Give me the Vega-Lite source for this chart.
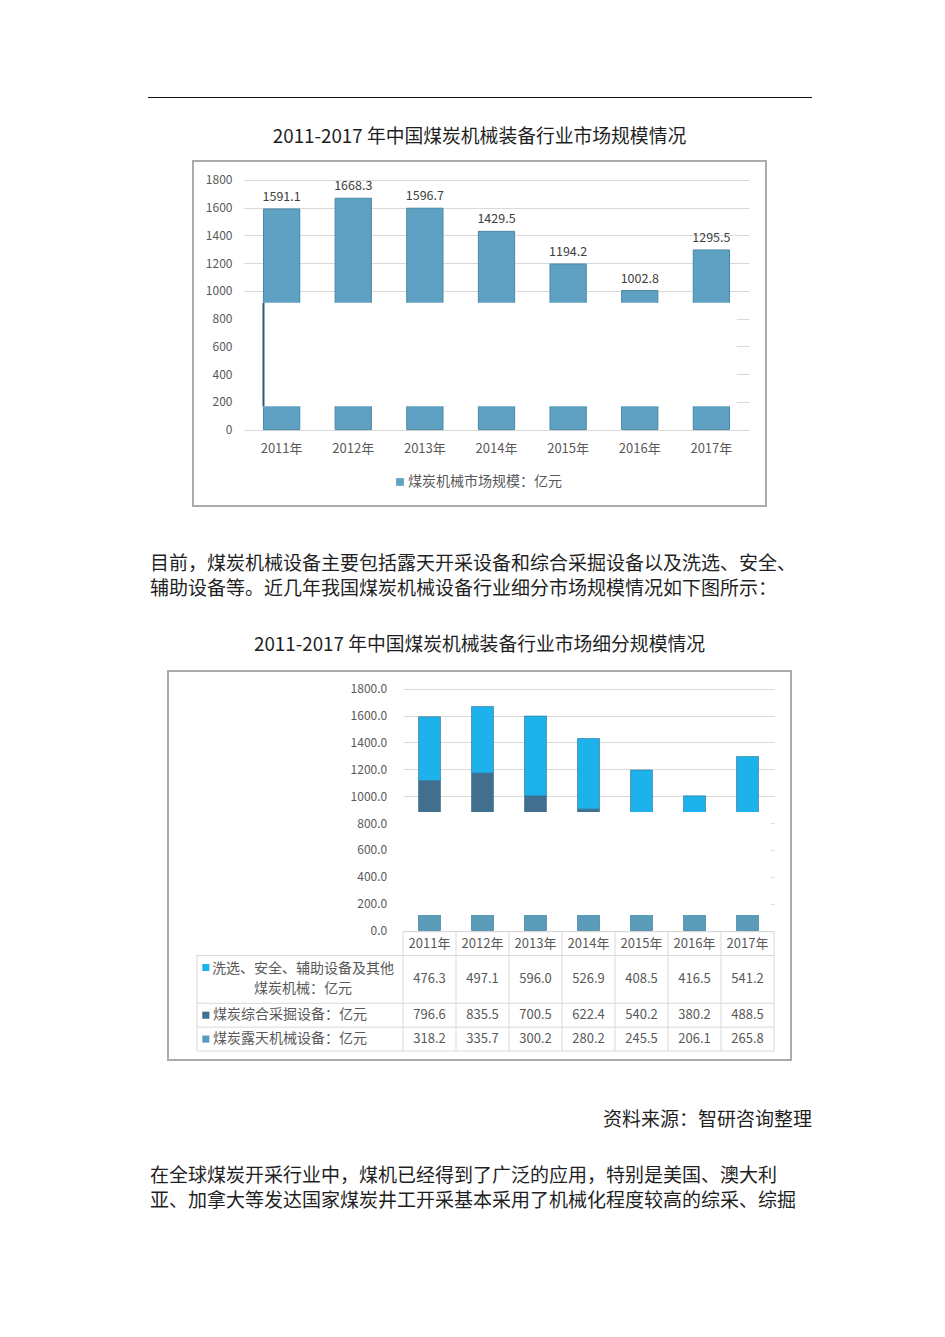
{
  "$schema": "https://vega.github.io/schema/vega-lite/v6.json",
  "background": "white",
  "padding": {"left": 148, "top": 97, "right": 20, "bottom": 20},
  "spacing": 0,
  "center": true,
  "resolve": {"scale": {"color": "independent"}, "legend": {"color": "independent"}},
  "config": {
    "font": "Noto Sans CJK SC",
    "view": {"stroke": null},
    "title": {"font": "Noto Sans CJK SC", "fontWeight": "normal", "fontSize": 18.8, "color": "#1f1f1f", "lineHeight": 25},
    "axis": {"labelFont": "Noto Sans CJK SC", "labelColor": "#595959", "title": null, "ticks": false, "tickSize": 0, "domain": false, "labelPadding": 0, "labelOverlap": false}
  },
  "datasets": {
    "total": [
      {"year": "2011年", "value": 1591.1, "series": "煤炭机械市场规模：亿元"},
      {"year": "2012年", "value": 1668.3, "series": "煤炭机械市场规模：亿元"},
      {"year": "2013年", "value": 1596.7, "series": "煤炭机械市场规模：亿元"},
      {"year": "2014年", "value": 1429.5, "series": "煤炭机械市场规模：亿元"},
      {"year": "2015年", "value": 1194.2, "series": "煤炭机械市场规模：亿元"},
      {"year": "2016年", "value": 1002.8, "series": "煤炭机械市场规模：亿元"},
      {"year": "2017年", "value": 1295.5, "series": "煤炭机械市场规模：亿元"}
    ],
    "seg": [
      {"year": "2011年", "series": "洗选、安全、辅助设备及其他\n煤炭机械：亿元", "value": 476.3},
      {"year": "2012年", "series": "洗选、安全、辅助设备及其他\n煤炭机械：亿元", "value": 497.1},
      {"year": "2013年", "series": "洗选、安全、辅助设备及其他\n煤炭机械：亿元", "value": 596.0},
      {"year": "2014年", "series": "洗选、安全、辅助设备及其他\n煤炭机械：亿元", "value": 526.9},
      {"year": "2015年", "series": "洗选、安全、辅助设备及其他\n煤炭机械：亿元", "value": 408.5},
      {"year": "2016年", "series": "洗选、安全、辅助设备及其他\n煤炭机械：亿元", "value": 416.5},
      {"year": "2017年", "series": "洗选、安全、辅助设备及其他\n煤炭机械：亿元", "value": 541.2},
      {"year": "2011年", "series": "煤炭综合采掘设备：亿元", "value": 796.6},
      {"year": "2012年", "series": "煤炭综合采掘设备：亿元", "value": 835.5},
      {"year": "2013年", "series": "煤炭综合采掘设备：亿元", "value": 700.5},
      {"year": "2014年", "series": "煤炭综合采掘设备：亿元", "value": 622.4},
      {"year": "2015年", "series": "煤炭综合采掘设备：亿元", "value": 540.2},
      {"year": "2016年", "series": "煤炭综合采掘设备：亿元", "value": 380.2},
      {"year": "2017年", "series": "煤炭综合采掘设备：亿元", "value": 488.5},
      {"year": "2011年", "series": "煤炭露天机械设备：亿元", "value": 318.2},
      {"year": "2012年", "series": "煤炭露天机械设备：亿元", "value": 335.7},
      {"year": "2013年", "series": "煤炭露天机械设备：亿元", "value": 300.2},
      {"year": "2014年", "series": "煤炭露天机械设备：亿元", "value": 280.2},
      {"year": "2015年", "series": "煤炭露天机械设备：亿元", "value": 245.5},
      {"year": "2016年", "series": "煤炭露天机械设备：亿元", "value": 206.1},
      {"year": "2017年", "series": "煤炭露天机械设备：亿元", "value": 265.8}
    ]
  },
  "vconcat": [
    {
      "width": 664, "height": 1,
      "view": {"fill": "#111111", "stroke": null},
      "data": {"values": []},
      "mark": "point",
      "encoding": {}
    },
    {
      "width": 664, "height": 29,
      "data": {"values": []},
      "mark": "point",
      "encoding": {}
    },
    {
      "width": 573, "height": 345,
      "view": {"stroke": "#ababab", "strokeWidth": 2},
      "title": {"text": "2011-2017 年中国煤炭机械装备行业市场规模情况", "orient": "top", "anchor": "middle", "offset": 14},
      "data": {"name": "total"},
      "layer": [
        {
          "mark": {"type": "bar", "stroke": "#4a87a6", "strokeWidth": 1},
          "encoding": {
            "x": {"field": "year", "type": "ordinal",
              "scale": {"type": "band", "domain": ["2011年","2012年","2013年","2014年","2015年","2016年","2017年"], "range": [51, 556], "paddingInner": 0.4935, "paddingOuter": 0.272},
              "axis": {"orient": "bottom", "offset": -64, "labelAngle": 0, "labelFontSize": 13, "grid": false, "title": null}},
            "y": {"field": "value", "type": "quantitative",
              "scale": {"domain": [-551, 1937], "nice": false, "zero": false},
              "axis": {"orient": "left", "offset": -39, "values": [0,200,400,600,800,1000,1200,1400,1600,1800], "format": "d", "labelFontSize": 12, "grid": true, "gridColor": "#d9d9d9", "title": null, "labelOverlap": false}},
            "y2": {"datum": 0},
            "color": {"field": "series", "type": "nominal", "scale": {"range": ["#5fa1c2"]},
              "legend": {"orient": "none", "legendX": 200, "legendY": 314, "title": null, "symbolType": "square", "symbolSize": 60, "symbolStrokeWidth": 0, "labelFontSize": 14, "labelColor": "#595959", "labelOffset": 1, "padding": 0}}
          }
        },
        {
          "data": {"values": [{}]},
          "mark": {"type": "rect", "color": "white"},
          "encoding": {
            "x": {"datum": "2011年", "type": "ordinal", "bandPosition": -0.6, "title": null},
            "x2": {"datum": "2017年", "bandPosition": 1.2},
            "y": {"datum": 169, "type": "quantitative",
              "axis": {"orient": "left", "offset": -39, "values": [0,200,400,600,800,1000,1200,1400,1600,1800], "format": "d", "labelFontSize": 12, "grid": true, "gridColor": "#d9d9d9", "title": null, "labelOverlap": false}},
            "y2": {"datum": 914}
          }
        },
        {
          "data": {"values": [{}]},
          "mark": {"type": "rule", "color": "#2d5d75", "strokeWidth": 2},
          "encoding": {
            "x": {"datum": "2011年", "type": "ordinal", "bandPosition": 0, "title": null},
            "y": {"datum": 169, "type": "quantitative",
              "axis": {"orient": "left", "offset": -39, "values": [0,200,400,600,800,1000,1200,1400,1600,1800], "format": "d", "labelFontSize": 12, "grid": true, "gridColor": "#d9d9d9", "title": null, "labelOverlap": false}},
            "y2": {"datum": 914}
          }
        },
        {
          "mark": {"type": "text", "baseline": "bottom", "dy": -5, "fontSize": 12.5, "color": "#404040"},
          "encoding": {
            "x": {"field": "year", "type": "ordinal", "title": null},
            "y": {"field": "value", "type": "quantitative",
              "axis": {"orient": "left", "offset": -39, "values": [0,200,400,600,800,1000,1200,1400,1600,1800], "format": "d", "labelFontSize": 12, "grid": true, "gridColor": "#d9d9d9", "title": null, "labelOverlap": false}},
            "text": {"field": "value", "type": "quantitative", "format": ".1f"}
          }
        }
      ]
    },
    {
      "width": 664, "height": 48,
      "data": {"values": []},
      "mark": "point",
      "encoding": {},
      "title": {"text": ["目前，煤炭机械设备主要包括露天开采设备和综合采掘设备以及洗选、安全、", "辅助设备等。近几年我国煤炭机械设备行业细分市场规模情况如下图所示："], "orient": "bottom", "anchor": "start", "offset": 0, "fontSize": 19, "dx": 2}
    },
    {
      "width": 664, "height": 36,
      "data": {"values": []},
      "mark": "point",
      "encoding": {}
    },
    {
      "width": 623, "height": 389,
      "view": {"stroke": "#ababab", "strokeWidth": 2},
      "title": {"text": "2011-2017 年中国煤炭机械装备行业市场细分规模情况", "orient": "top", "anchor": "middle", "offset": 16},
      "data": {"name": "seg"},
      "resolve": {"scale": {"x": "independent", "y": "independent"}},
      "layer": [
        {
          "layer": [
            {
              "mark": {"type": "bar", "stroke": "#2f6f8f", "strokeWidth": 0.6},
              "encoding": {
                "x": {"field": "year", "type": "ordinal",
                  "scale": {"type": "band", "domain": ["2011年","2012年","2013年","2014年","2015年","2016年","2017年"], "range": [235, 606], "paddingInner": 0.585, "paddingOuter": 0.2925},
                  "axis": null},
                "y": {"field": "value", "type": "quantitative", "stack": "zero",
                  "scale": {"domain": [-964, 1932], "nice": false, "zero": false},
                  "axis": {"orient": "left", "offset": -218.7, "values": [0,200,400,600,800,1000,1200,1400,1600,1800], "format": ".1f", "labelFontSize": 12, "grid": true, "gridColor": "#d9d9d9", "title": null}},
                "color": {"field": "series", "type": "nominal",
                  "scale": {"domain": ["洗选、安全、辅助设备及其他\n煤炭机械：亿元", "煤炭综合采掘设备：亿元", "煤炭露天机械设备：亿元"], "range": ["#1db2ec", "#426f8e", "#5a9cba"]},
                  "legend": null},
                "order": {"field": "series", "sort": "descending"}
              }
            },
            {
              "data": {"values": [{}]},
              "mark": {"type": "rect", "color": "white"},
              "encoding": {
                "x": {"datum": "2011年", "type": "ordinal", "bandPosition": -0.84, "axis": null},
                "x2": {"datum": "2017年", "bandPosition": 1.57},
                "y": {"datum": 115, "type": "quantitative", "title": null},
                "y2": {"datum": 882}
              }
            }
          ]
        },
        {
          "layer": [
            {
              "transform": [{"filter": "datum.series === '煤炭露天机械设备：亿元'"}],
              "mark": {"type": "rule", "color": "#d9d9d9", "strokeWidth": 1},
              "encoding": {
                "x": {"field": "year", "type": "ordinal", "bandPosition": 0,
                  "scale": {"type": "band", "domain": ["2011年","2012年","2013年","2014年","2015年","2016年","2017年"], "range": [235, 606], "paddingInner": 0, "paddingOuter": 0}, "axis": null},
                "y": {"datum": "hdr", "type": "nominal", "bandPosition": 0,
                  "scale": {"type": "band", "domain": ["hdr", "洗选、安全、辅助设备及其他\n煤炭机械：亿元", "r1b", "煤炭综合采掘设备：亿元", "煤炭露天机械设备：亿元"], "range": [260.7, 380], "paddingInner": 0, "paddingOuter": 0}, "axis": null},
                "y2": {"datum": "煤炭露天机械设备：亿元", "bandPosition": 1}
              }
            },
            {
              "data": {"values": [{}]},
              "mark": {"type": "rule", "color": "#d9d9d9", "strokeWidth": 1},
              "encoding": {
                "x": {"datum": "2017年", "type": "ordinal", "bandPosition": 1, "axis": null},
                "y": {"datum": "hdr", "type": "nominal", "bandPosition": 0, "axis": null},
                "y2": {"datum": "煤炭露天机械设备：亿元", "bandPosition": 1}
              }
            },
            {
              "data": {"values": [{}]},
              "mark": {"type": "rule", "color": "#d9d9d9", "strokeWidth": 1},
              "encoding": {
                "x": {"datum": "2011年", "type": "ordinal", "bandPosition": -3.887, "axis": null},
                "y": {"datum": "洗选、安全、辅助设备及其他\n煤炭机械：亿元", "type": "nominal", "bandPosition": 0, "axis": null},
                "y2": {"datum": "煤炭露天机械设备：亿元", "bandPosition": 1}
              }
            },
            {
              "transform": [{"aggregate": [{"op": "count", "as": "n"}], "groupby": ["series"]}],
              "mark": {"type": "rule", "color": "#d9d9d9", "strokeWidth": 1},
              "encoding": {
                "y": {"field": "series", "type": "nominal", "bandPosition": 0, "axis": null},
                "x": {"datum": "2011年", "type": "ordinal", "bandPosition": -3.887, "axis": null},
                "x2": {"datum": "2017年", "bandPosition": 1}
              }
            },
            {
              "data": {"values": [{}]},
              "mark": {"type": "rule", "color": "#d9d9d9", "strokeWidth": 1},
              "encoding": {
                "y": {"datum": "煤炭露天机械设备：亿元", "type": "nominal", "bandPosition": 1, "axis": null},
                "x": {"datum": "2011年", "type": "ordinal", "bandPosition": -3.887, "axis": null},
                "x2": {"datum": "2017年", "bandPosition": 1}
              }
            },
            {
              "data": {"values": [{}]},
              "mark": {"type": "rule", "color": "#d9d9d9", "strokeWidth": 1},
              "encoding": {
                "y": {"datum": "hdr", "type": "nominal", "bandPosition": 0, "axis": null},
                "x": {"datum": "2011年", "type": "ordinal", "bandPosition": 0, "axis": null},
                "x2": {"datum": "2017年", "bandPosition": 1}
              }
            },
            {
              "transform": [{"filter": "datum.series === '煤炭露天机械设备：亿元'"}],
              "mark": {"type": "text", "fontSize": 13, "color": "#595959", "baseline": "middle"},
              "encoding": {
                "x": {"field": "year", "type": "ordinal", "axis": null},
                "y": {"datum": "hdr", "type": "nominal", "bandPosition": 0.5, "axis": null},
                "text": {"field": "year"}
              }
            },
            {
              "transform": [{"filter": "indexof(datum.series, '洗选') !== 0"}],
              "mark": {"type": "text", "fontSize": 13, "color": "#595959", "baseline": "middle"},
              "encoding": {
                "x": {"field": "year", "type": "ordinal", "axis": null},
                "y": {"field": "series", "type": "nominal", "bandPosition": 0.5, "axis": null},
                "text": {"field": "value", "type": "quantitative", "format": ".1f"}
              }
            },
            {
              "transform": [{"filter": "indexof(datum.series, '洗选') === 0"}],
              "mark": {"type": "text", "fontSize": 13, "color": "#595959", "baseline": "middle"},
              "encoding": {
                "x": {"field": "year", "type": "ordinal", "axis": null},
                "y": {"field": "series", "type": "nominal", "bandPosition": 1, "axis": null},
                "text": {"field": "value", "type": "quantitative", "format": ".1f"}
              }
            },
            {
              "transform": [{"aggregate": [{"op": "count", "as": "n"}], "groupby": ["series"]}, {"filter": "indexof(datum.series, '洗选') !== 0"}],
              "mark": {"type": "text", "fontSize": 14, "color": "#595959", "baseline": "middle", "align": "left"},
              "encoding": {
                "x": {"datum": "2011年", "type": "ordinal", "bandPosition": -3.585, "axis": null},
                "y": {"field": "series", "type": "nominal", "bandPosition": 0.5, "axis": null},
                "text": {"field": "series"}
              }
            },
            {
              "transform": [{"aggregate": [{"op": "count", "as": "n"}], "groupby": ["series"]}, {"filter": "indexof(datum.series, '洗选') === 0"}],
              "mark": {"type": "text", "fontSize": 14, "color": "#595959", "baseline": "middle", "align": "center", "lineBreak": "\n", "lineHeight": 20, "dy": -10},
              "encoding": {
                "x": {"datum": "2011年", "type": "ordinal", "bandPosition": -1.887, "axis": null},
                "y": {"field": "series", "type": "nominal", "bandPosition": 1, "axis": null},
                "text": {"field": "series"}
              }
            },
            {
              "transform": [{"aggregate": [{"op": "count", "as": "n"}], "groupby": ["series"]}],
              "mark": {"type": "point", "shape": "square", "filled": true, "size": 50, "opacity": 1},
              "encoding": {
                "x": {"datum": "2011年", "type": "ordinal", "bandPosition": -3.72, "axis": null},
                "y": {"field": "series", "type": "nominal", "bandPosition": 0.5, "axis": null},
                "color": {"field": "series", "type": "nominal", "legend": null}
              }
            }
          ]
        }
      ]
    },
    {
      "width": 664, "height": 50,
      "data": {"values": []},
      "mark": "point",
      "encoding": {},
      "title": {"text": "资料来源：智研咨询整理", "orient": "bottom", "anchor": "end", "offset": 0, "fontSize": 19}
    },
    {
      "width": 664, "height": 37,
      "data": {"values": []},
      "mark": "point",
      "encoding": {},
      "title": {"text": ["在全球煤炭开采行业中，煤机已经得到了广泛的应用，特别是美国、澳大利", "亚、加拿大等发达国家煤炭井工开采基本采用了机械化程度较高的综采、综掘"], "orient": "bottom", "anchor": "start", "offset": 0, "fontSize": 19, "dx": 2}
    }
  ]
}
